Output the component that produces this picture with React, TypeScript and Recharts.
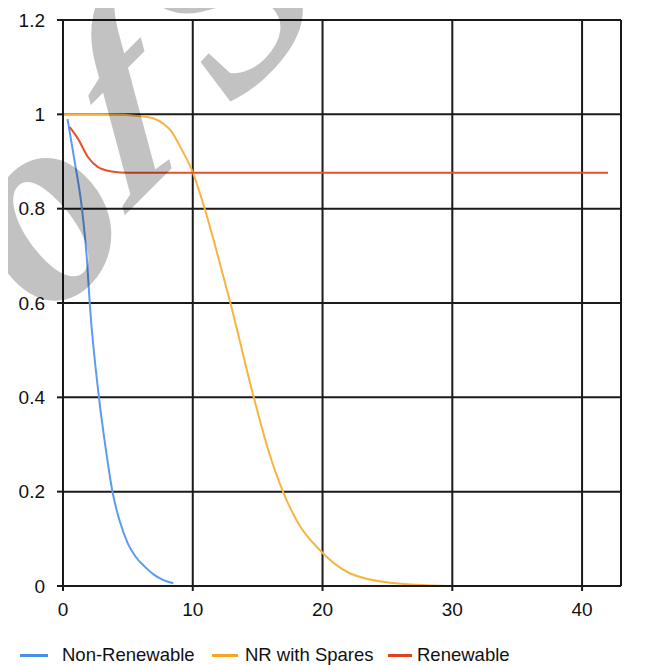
import { CartesianGrid, Line, LineChart, XAxis, YAxis } from 'recharts';

const BLUE = '#5b9bf0';
const ORANGE = '#f7b43f';
const RED = '#e4512b';
const GRID = '#1a1a1a';

// values
const NR_T = [0.35, 0.9, 1.46, 1.85, 2.06, 2.77, 3.3, 3.81, 4.4, 5.0, 5.6, 6.3, 7.0, 7.7, 8.5];
const NR_R = [0.99, 0.9, 0.8, 0.69, 0.6, 0.4, 0.29, 0.2, 0.135, 0.09, 0.062, 0.041, 0.024, 0.013, 0.006];

const SPARES_T = [0, 3, 6.4, 8.2, 9.25, 9.9, 10.92, 11.8, 12.9, 14.7, 15.8, 16.95, 18.2, 19.65, 22.1, 25.2, 29.8];
const SPARES_R = [1, 1, 0.995, 0.969, 0.92, 0.884, 0.8, 0.714, 0.6, 0.4, 0.29, 0.2, 0.13, 0.08, 0.027, 0.007, 0];

const REN_T = [0.52, 1.16, 1.93, 2.7, 3.73, 5, 10, 20, 30, 42];
const REN_R = [0.973, 0.948, 0.909, 0.888, 0.879, 0.876, 0.876, 0.876, 0.876, 0.876];

const X_TICKS = [0, 10, 20, 30, 40];
const Y_TICKS = [0, 0.2, 0.4, 0.6, 0.8, 1, 1.2];

const toRows = (t: number[], r: number[]) => t.map((x, i) => ({ x, y: r[i] }));

const SERIES = [
  { name: 'Non-Renewable', color: BLUE, swatch: '#4a8fe7', data: toRows(NR_T, NR_R) },
  { name: 'NR with Spares', color: ORANGE, swatch: '#f5a623', data: toRows(SPARES_T, SPARES_R) },
  { name: 'Renewable', color: RED, swatch: '#e0401c', data: toRows(REN_T, REN_R) },
];

const FONT = '"Liberation Sans", Arial, sans-serif';
const SERIF = '"Liberation Serif", "DejaVu Serif", serif';

// swatch / label left positions inside the chart box
const LEGEND_POS = [
  { swatch: 12, width: 28, text: 54 },
  { swatch: 204, width: 26, text: 237 },
  { swatch: 380, width: 24, text: 409 },
];

// watermark glyphs over the plot
const WATERMARK = [
  { ch: 'o', transform: 'translate(52,322) rotate(-47)', italic: true, size: 278 },
  { ch: 'f', transform: 'translate(120,220) rotate(-45) skewX(-30)', italic: false, size: 250 },
  { ch: 'S', transform: 'translate(232,110) rotate(-47)', italic: true, size: 278 },
];

function ChartLegend() {
  return (
    <div style={{ position: 'absolute', left: 0, top: 608, width: 630, height: 49, fontFamily: FONT, fontSize: 18.5, color: '#111' }}>
      {SERIES.map((s, i) => (
        <div key={s.name}>
          <div
            style={{
              position: 'absolute',
              left: LEGEND_POS[i].swatch,
              top: 38,
              width: LEGEND_POS[i].width,
              height: 3,
              background: s.swatch,
            }}
          />
          <span style={{ position: 'absolute', left: LEGEND_POS[i].text, top: 29, lineHeight: '20px', whiteSpace: 'nowrap' }}>
            {s.name}
          </span>
        </div>
      ))}
    </div>
  );
}

export default function App() {
  return (
    <div style={{ position: 'relative', width: 630, height: 657 }}>
      <LineChart width={630} height={657} margin={{ top: 12, right: 17, bottom: 49, left: 0 }}>
        <CartesianGrid stroke={GRID} strokeWidth={2} />
        <XAxis
          type="number"
          dataKey="x"
          domain={[0, 43]}
          ticks={X_TICKS}
          height={30}
          axisLine={{ stroke: GRID, strokeWidth: 2 }}
          tickLine={{ stroke: GRID, strokeWidth: 2 }}
          tickSize={5}
          tickMargin={12}
          tick={{ fontSize: 19, fill: '#111', fontFamily: FONT }}
        />
        <YAxis
          type="number"
          domain={[0, 1.2]}
          ticks={Y_TICKS}
          width={55}
          axisLine={{ stroke: GRID, strokeWidth: 2 }}
          tickLine={{ stroke: GRID, strokeWidth: 2 }}
          tickSize={6}
          tickMargin={12}
          tick={{ fontSize: 19, fill: '#111', fontFamily: FONT }}
          tickFormatter={(v: number) => String(v)}
        />
        {SERIES.map(s => (
          <Line
            key={s.name}
            data={s.data}
            dataKey="y"
            name={s.name}
            type="monotone"
            stroke={s.color}
            strokeWidth={2}
            dot={false}
            isAnimationActive={false}
          />
        ))}
      </LineChart>
      <ChartLegend />
      <svg
        width={646}
        height={665}
        style={{ position: 'absolute', left: -8, top: -8, pointerEvents: 'none' }}
      >
        {WATERMARK.map(w => (
          <text
            key={w.ch}
            transform={w.transform}
            fontFamily={SERIF}
            fontStyle={w.italic ? 'italic' : 'normal'}
            fontWeight="bold"
            fontSize={w.size}
            fill="#000"
            fillOpacity={0.24}
          >
            {w.ch}
          </text>
        ))}
      </svg>
    </div>
  );
}
